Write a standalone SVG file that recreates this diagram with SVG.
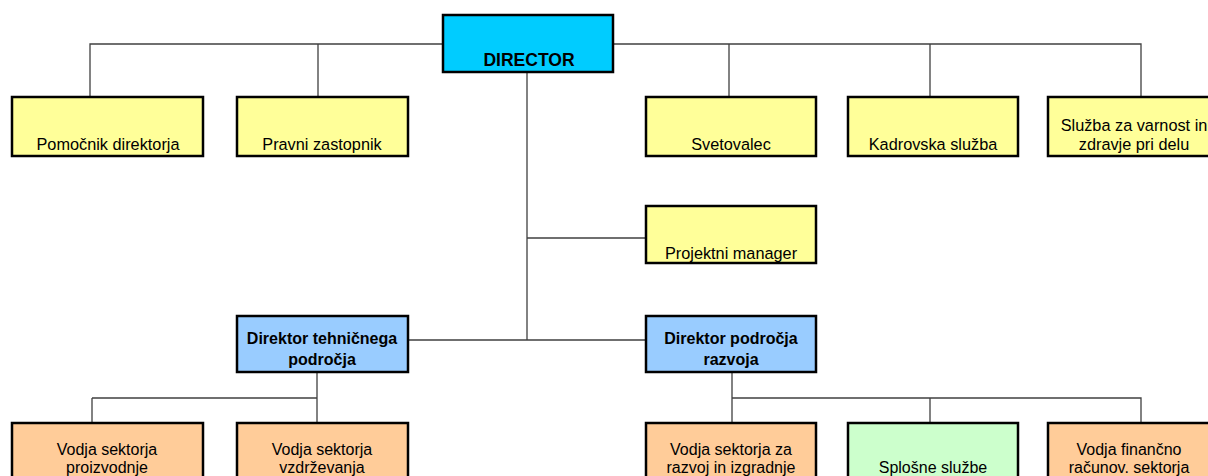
<svg xmlns="http://www.w3.org/2000/svg" width="1208" height="476" viewBox="0 0 1208 476">
<style>
.box{stroke:#000;stroke-width:2.5}
.y{fill:#FFFF99}.c{fill:#00CCFF}.b{fill:#99CCFF}.o{fill:#FFCC99}.g{fill:#CCFFCC}
text{font-family:"Liberation Sans",Arial,sans-serif;font-size:16px;fill:#000;text-anchor:middle}
.bold{font-weight:bold}
.conn{stroke:#404040;stroke-width:1.3;fill:none}
</style>
<rect width="1208" height="476" fill="#fff"/>
<g id="connectors" class="conn">
<path d="M90,97V44H443M318,44V97"/>
<path d="M613,44H1141V97M729,44V97M930,44V97"/>
<path d="M527,72V340M527,238H646M408,340H646"/>
<path d="M317,372V398M92,398H317V423M92,398V423"/>
<path d="M732,372V398H1141V423M732,398V423M930,398V423"/>
</g>
<g id="director"><rect class="box c" x="443" y="15" width="170" height="57"/><text class="bold" x="529" y="66" style="font-size:17.5px">DIRECTOR</text></g>
<g id="pomocnik"><rect class="box y" x="12" y="97" width="191" height="59"/><text x="108" y="150" style="font-size:16.3px">Pomočnik direktorja</text></g>
<g id="pravni"><rect class="box y" x="237" y="97" width="171" height="59"/><text x="322" y="150" style="font-size:16.3px">Pravni zastopnik</text></g>
<g id="svetovalec"><rect class="box y" x="646" y="97" width="170" height="59"/><text x="731" y="150" style="font-size:16.3px">Svetovalec</text></g>
<g id="kadrovska"><rect class="box y" x="848" y="97" width="170" height="59"/><text x="933" y="150" style="font-size:16.3px">Kadrovska služba</text></g>
<g id="sluzba"><rect class="box y" x="1048" y="97" width="172" height="59"/><text x="1134" y="131" style="font-size:16.3px">Služba za varnost in</text><text x="1134" y="150" style="font-size:16.3px">zdravje pri delu</text></g>
<g id="projektni"><rect class="box y" x="646" y="206" width="170" height="57"/><text x="731" y="259" style="font-size:16.3px">Projektni manager</text></g>
<g id="tehnicni"><rect class="box b" x="237" y="316" width="171" height="56"/><text class="bold" x="322" y="344">Direktor tehničnega</text><text class="bold" x="322" y="365">področja</text></g>
<g id="razvoj"><rect class="box b" x="646" y="316" width="170" height="56"/><text class="bold" x="731" y="344">Direktor področja</text><text class="bold" x="731" y="365">razvoja</text></g>
<g id="proizvodnja"><rect class="box o" x="12" y="423" width="191" height="60"/><text x="107" y="455">Vodja sektorja</text><text x="107" y="473">proizvodnje</text></g>
<g id="vzdrzevanje"><rect class="box o" x="237" y="423" width="171" height="60"/><text x="322" y="455">Vodja sektorja</text><text x="322" y="473">vzdrževanja</text></g>
<g id="izgradnja"><rect class="box o" x="646" y="423" width="170" height="60"/><text x="731" y="455">Vodja sektorja za</text><text x="731" y="473">razvoj in izgradnje</text></g>
<g id="splosne"><rect class="box g" x="848" y="423" width="170" height="60"/><text x="933" y="473">Splošne službe</text></g>
<g id="financno"><rect class="box o" x="1048" y="423" width="172" height="60"/><text x="1129" y="455">Vodja finančno</text><text x="1129" y="473">računov. sektorja</text></g>
</svg>
